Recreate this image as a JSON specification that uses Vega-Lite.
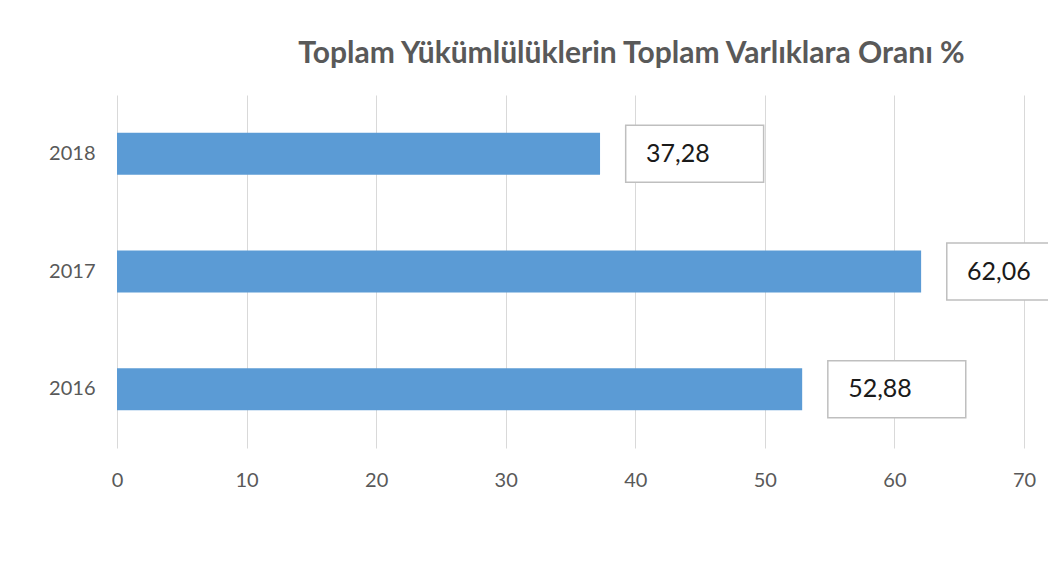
{
  "$schema": "https://vega.github.io/schema/vega-lite/v6.json",
  "autosize": "none",
  "width": 907,
  "height": 353,
  "padding": {"left": 117, "top": 95, "right": 24, "bottom": 134},
  "background": "white",
  "config": {
    "view": {"stroke": null},
    "font": "Lato",
    "locale": {"number": {"decimal": ",", "thousands": ".", "grouping": [3], "currency": ["", ""]}}
  },
  "title": {
    "text": "Toplam Yükümlülüklerin Toplam Varlıklara Oranı %",
    "font": "Lato",
    "fontSize": 30,
    "fontWeight": "bold",
    "color": "#595959",
    "anchor": "middle",
    "dx": 61,
    "offset": 26
  },
  "data": {"values": [
    {"year": "2016", "value": 52.88},
    {"year": "2017", "value": 62.06},
    {"year": "2018", "value": 37.28}
  ]},
  "encoding": {
    "y": {
      "field": "year", "type": "nominal",
      "scale": {"domain": ["2018", "2017", "2016"], "paddingInner": 0.643, "paddingOuter": 0.3215},
      "axis": {"title": null, "domain": false, "ticks": false, "labelPadding": 22, "labelFontSize": 20, "labelColor": "#595959", "labelFont": "Lato"}
    },
    "x": {
      "field": "value", "type": "quantitative",
      "scale": {"domain": [0, 70], "nice": false},
      "axis": {"title": null, "values": [0, 10, 20, 30, 40, 50, 60, 70], "labelFlush": false, "domain": false, "ticks": false, "grid": true, "gridColor": "#d9d9d9", "gridWidth": 1, "labelPadding": 22, "labelFontSize": 20, "labelColor": "#595959", "labelFont": "Lato"}
    }
  },
  "layer": [
    {"mark": {"type": "bar", "color": "#5b9bd5"}},
    {
      "mark": {"type": "point", "shape": "M0.9,-1H5.74V1H0.9Z", "size": 3249, "filled": true, "fill": "white", "stroke": "#bfbfbf", "strokeWidth": 1.5, "opacity": 1, "fillOpacity": 1}
    },
    {
      "mark": {"type": "text", "align": "left", "baseline": "middle", "xOffset": 46, "fontSize": 25, "font": "Lato", "color": "#1a1a1a"},
      "encoding": {"text": {"field": "value", "type": "quantitative", "format": ".2f"}}
    }
  ]
}
